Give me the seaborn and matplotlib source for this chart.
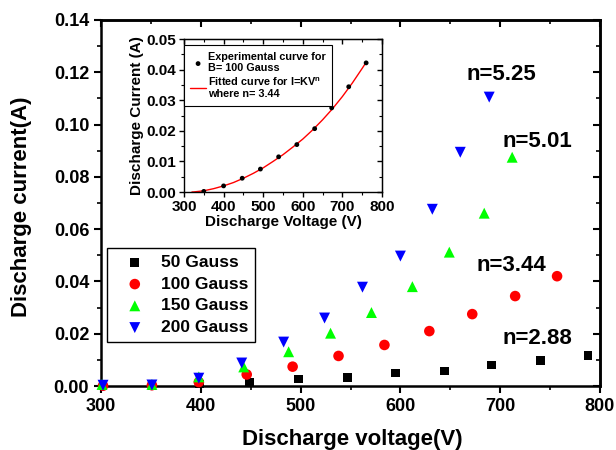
import matplotlib
matplotlib.use("Agg")
import matplotlib.pyplot as plt
import seaborn as sns
import pandas as pd
from matplotlib.ticker import MultipleLocator

# ---------------- data ----------------
series_names = ["50 Gauss", "100 Gauss", "150 Gauss", "200 Gauss"]

v_50 = [302, 351, 399, 449, 498, 547, 595, 644, 691, 740, 788]
i_50 = [0.0001, 0.0002, 0.0008, 0.0015, 0.0027, 0.0034, 0.0050, 0.0057, 0.0080, 0.0099, 0.0118]

v_100 = [302, 351, 398, 446, 492, 538, 584, 629, 672, 715, 757]
i_100 = [0.0001, 0.0003, 0.0015, 0.0044, 0.0074, 0.0115, 0.0157, 0.0210, 0.0275, 0.0344, 0.0420]

v_150 = [301, 351, 398, 443, 488, 530, 571, 612, 649, 684, 712]
i_150 = [0.0006, 0.0006, 0.0035, 0.0073, 0.0131, 0.0202, 0.0281, 0.0380, 0.0512, 0.0661, 0.0875]

v_200 = [302, 351, 398, 441, 483, 524, 562, 600, 632, 660, 689]
i_200 = [0.0003, 0.0004, 0.0030, 0.0088, 0.0168, 0.0260, 0.0378, 0.0497, 0.0676, 0.0894, 0.1105]

# inset: experimental 100 Gauss points and fitted curve
inset_v = [350, 400, 447, 493, 539, 585, 630, 673, 716, 760]
inset_i = [0.0002, 0.0020, 0.0045, 0.0075, 0.0115, 0.0155, 0.0207, 0.0275, 0.0344, 0.0422]
fit_v = [320, 325, 350, 375, 400, 425, 450, 475, 500, 525, 550, 575, 600, 625, 650,
         675, 700, 725, 750, 760]
fit_i = [0.0, 0.00003, 0.0004, 0.0011, 0.0020, 0.0031, 0.0045, 0.0061, 0.0079, 0.0100,
         0.0122, 0.0147, 0.0173, 0.0203, 0.0236, 0.0272, 0.0312, 0.0356, 0.0404, 0.0424]

# annotations: text, x (V), y (A)
ann_text = ["n=5.25", "n=5.01", "n=3.44", "n=2.88"]
ann_x = [666, 702, 676, 702]
ann_y = [0.1192, 0.0936, 0.0462, 0.0183]

# ---------------- style ----------------
sns.set_style("ticks")
plt.rcParams["font.family"] = ["Liberation Sans", "DejaVu Sans"]
plt.rcParams["font.weight"] = "bold"
plt.rcParams["axes.labelweight"] = "bold"
plt.rcParams["mathtext.fontset"] = "custom"
plt.rcParams["mathtext.bf"] = "Liberation Sans:bold"
plt.rcParams["mathtext.rm"] = "Liberation Sans:bold"
for key in ["text.color", "axes.labelcolor", "xtick.color", "ytick.color",
            "axes.edgecolor", "xtick.labelcolor", "ytick.labelcolor"]:
    plt.rcParams[key] = "black"

colors = {"50 Gauss": "#000000", "100 Gauss": "#FF0000",
          "150 Gauss": "#00FF00", "200 Gauss": "#0000FF"}
markers = {"50 Gauss": "s", "100 Gauss": "o", "150 Gauss": "^", "200 Gauss": "v"}
sizes = {"50 Gauss": 40, "100 Gauss": 58, "150 Gauss": 62, "200 Gauss": 62}

frames = []
for name, v, i in zip(series_names, [v_50, v_100, v_150, v_200], [i_50, i_100, i_150, i_200]):
    frames.append(pd.DataFrame({"V": v, "I": i, "B": name}))
df = pd.concat(frames, ignore_index=True)

fig = plt.figure(figsize=(6.16, 4.5), dpi=100)
ax = fig.add_axes([0.164, 0.1422, 0.810, 0.8134])

for name in series_names:
    sub = df[df["B"] == name]
    sns.scatterplot(data=sub, x="V", y="I", ax=ax, color=colors[name],
                    marker=markers[name], s=sizes[name], edgecolor="none",
                    label=name, zorder=3, clip_on=False)

ax.set_xlim(300, 800)
ax.xaxis.set_major_locator(MultipleLocator(100))
ax.xaxis.set_minor_locator(MultipleLocator(50))
ax.set_yticks([0.0, 0.02, 0.04, 0.06, 0.08, 0.10, 0.12, 0.14])
ax.set_yticklabels(["0.00", "0.02", "0.04", "0.06", "0.08", "0.10", "0.12", "0.14"])
ax.yaxis.set_minor_locator(MultipleLocator(0.01))
ax.set_ylim(0, 0.14)

for sp in ax.spines.values():
    sp.set_linewidth(1.8)
    sp.set_visible(True)
ax.tick_params(axis="both", which="major", labelsize=13, width=1.5, length=5,
               direction="out", colors="black")
ax.tick_params(axis="both", which="minor", width=1.2, length=3, direction="out")
ax.tick_params(which="both", top=False, right=False)
ax_top = ax.secondary_xaxis("top")
ax_top.xaxis.set_major_locator(MultipleLocator(100))
ax_top.xaxis.set_minor_locator(MultipleLocator(50))
ax_top.tick_params(which="major", direction="in", length=5, width=1.5, labeltop=False)
ax_top.tick_params(which="minor", direction="in", length=3, width=1.2)
ax_top.spines["top"].set_linewidth(1.8)
ax_right = ax.secondary_yaxis("right")
ax_right.yaxis.set_major_locator(MultipleLocator(0.02))
ax_right.yaxis.set_minor_locator(MultipleLocator(0.01))
ax_right.tick_params(which="major", direction="in", length=5, width=1.5, labelright=False)
ax_right.tick_params(which="minor", direction="in", length=3, width=1.2)
ax_right.spines["right"].set_linewidth(1.8)

for lab in ax.get_xticklabels() + ax.get_yticklabels():
    lab.set_fontweight("bold")

ax.set_xlabel("Discharge voltage(V)", fontsize=16, fontweight="bold")
ax.set_ylabel("Discharge current(A)", fontsize=16, fontweight="bold")
ax.xaxis.set_label_coords(0.503, -0.118)
ax.yaxis.set_label_coords(-0.138, 0.49)

for t, x, y in zip(ann_text, ann_x, ann_y):
    ax.text(x, y, t, fontsize=16, fontweight="bold", ha="left", va="center")

leg = ax.legend(loc="lower left", bbox_to_anchor=(0.012, 0.12), borderaxespad=0,
                fontsize=12.5, frameon=True, fancybox=False, framealpha=1,
                edgecolor="black", handlelength=2.4, handletextpad=0.3,
                labelspacing=0.38, borderpad=0.4)
leg.get_frame().set_linewidth(1.0)
for txt in leg.get_texts():
    txt.set_fontweight("bold")

# ---------------- inset ----------------
axin = fig.add_axes([0.2987, 0.5733, 0.3214, 0.34])
sns.lineplot(x=fit_v, y=fit_i, ax=axin, color="#FF0000", linewidth=1.0,
             label="Fitted curve for I=KV$^{\\mathbf{n}}$\nwhere n= 3.44", zorder=2)
sns.scatterplot(x=inset_v, y=inset_i, ax=axin, color="black", s=12, edgecolor="none",
                label="Experimental curve for\nB= 100 Gauss", zorder=3)
axin.set_xlim(300, 800)
axin.set_ylim(0, 0.05)
axin.xaxis.set_major_locator(MultipleLocator(100))
axin.xaxis.set_minor_locator(MultipleLocator(50))
axin.set_yticks([0.0, 0.01, 0.02, 0.03, 0.04, 0.05])
axin.set_yticklabels(["0.00", "0.01", "0.02", "0.03", "0.04", "0.05"])
axin.yaxis.set_minor_locator(MultipleLocator(0.005))
axin.set_ylim(0, 0.05)
for sp in axin.spines.values():
    sp.set_linewidth(1.0)
    sp.set_visible(True)
axin.tick_params(which="major", labelsize=11, width=1.0, length=3.5, direction="out", pad=2)
axin.tick_params(which="minor", width=0.8, length=2, direction="out")
ain_top = axin.secondary_xaxis("top")
ain_top.xaxis.set_major_locator(MultipleLocator(100))
ain_top.xaxis.set_minor_locator(MultipleLocator(50))
ain_top.tick_params(which="major", direction="in", length=3.5, width=1.0, labeltop=False)
ain_top.tick_params(which="minor", direction="in", length=2, width=0.8)
ain_right = axin.secondary_yaxis("right")
ain_right.yaxis.set_major_locator(MultipleLocator(0.01))
ain_right.yaxis.set_minor_locator(MultipleLocator(0.005))
ain_right.tick_params(which="major", direction="in", length=3.5, width=1.0, labelright=False)
ain_right.tick_params(which="minor", direction="in", length=2, width=0.8)
for lab in axin.get_xticklabels() + axin.get_yticklabels():
    lab.set_fontweight("bold")
axin.set_xlabel("Discharge Voltage (V)", fontsize=11, fontweight="bold", labelpad=1)
axin.set_ylabel("Discharge Current (A)", fontsize=11, fontweight="bold", labelpad=2)

h, l = axin.get_legend_handles_labels()
order = [1, 0]
lin = axin.legend([h[k] for k in order], [l[k] for k in order],
                  loc="upper left", bbox_to_anchor=(0, 0.96),
                  borderaxespad=0, fontsize=7.8, frameon=True, fancybox=False,
                  framealpha=1, edgecolor="black", handlelength=1.4,
                  handletextpad=0.2, labelspacing=0.2, borderpad=0.6)
lin.get_frame().set_linewidth(0.8)
for txt in lin.get_texts():
    txt.set_fontweight("bold")

fig.savefig("out.png", dpi=100)
